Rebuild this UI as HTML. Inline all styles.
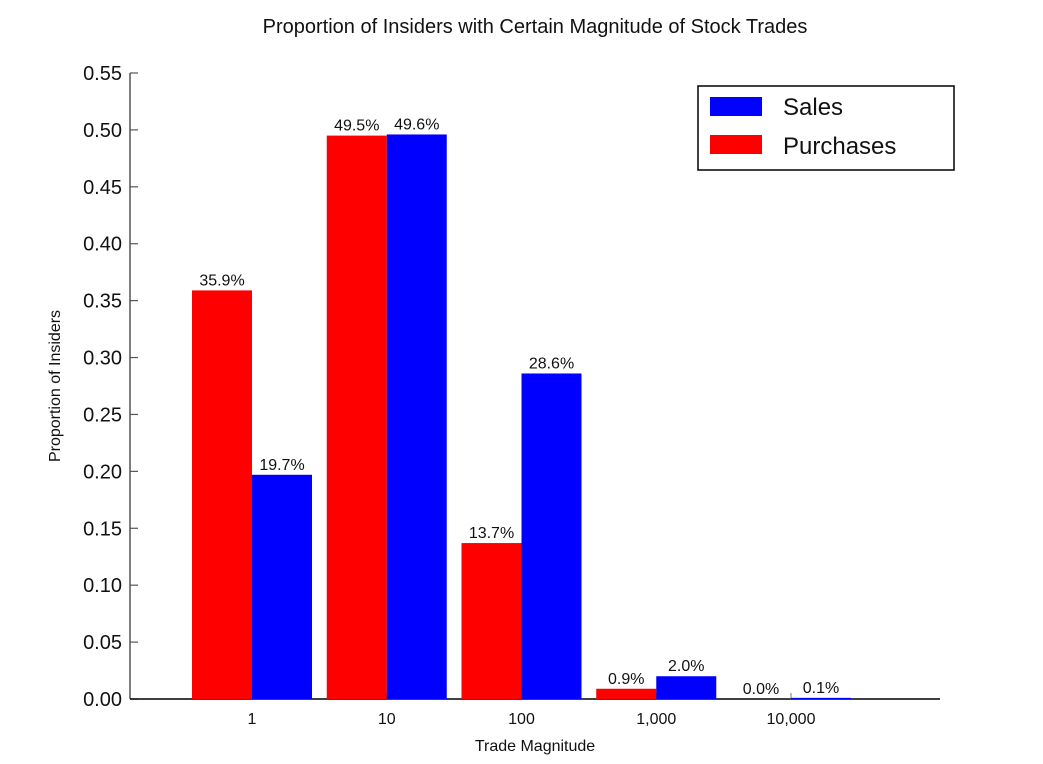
<!DOCTYPE html>
<html><head><meta charset="utf-8"><style>
body{margin:0;background:#fff;}
svg text{font-family:"Liberation Sans","DejaVu Sans",sans-serif;fill:#111;}
</style></head><body>
<svg id="chart" width="1043" height="759" xmlns="http://www.w3.org/2000/svg">
<rect width="1043" height="759" fill="#fff"/>
<text x="535" y="33" font-size="20" text-anchor="middle">Proportion of Insiders with Certain Magnitude of Stock Trades</text>
<g id="yaxis"></g>
<g id="xaxis"></g>
<g id="bars"></g>
<text transform="translate(60,386) rotate(-90)" font-size="16" text-anchor="middle">Proportion of Insiders</text>
<text x="535" y="751" font-size="16" text-anchor="middle">Trade Magnitude</text>
<g>
<rect x="698" y="86" width="256" height="84" fill="#fff" stroke="#000" stroke-width="1.5"/>
<rect x="710" y="97" width="52" height="19" fill="#0000ff"/>
<text x="783" y="115" font-size="24">Sales</text>
<rect x="710" y="135" width="52" height="19" fill="#ff0000"/>
<text x="783" y="154" font-size="24">Purchases</text>
</g>
</svg>
<script>
const categories = ["1","10","100","1,000","10,000"];
const purchases = [0.359,0.495,0.137,0.009,0.0];
const sales = [0.197,0.496,0.286,0.020,0.001];
const yTicks = [0,0.05,0.10,0.15,0.20,0.25,0.30,0.35,0.40,0.45,0.50,0.55];
const NS="http://www.w3.org/2000/svg";
const x0=130,x1=940,yB=699,yT=73,yMax=0.55;
const y=v=>yB-(yB-yT)*v/yMax;
const xc=i=>252+134.75*i;
const bw=60;
function mk(tag,attrs,parent,txt){const e=document.createElementNS(NS,tag);for(const k in attrs)e.setAttribute(k,attrs[k]);if(txt!==undefined)e.textContent=txt;parent.appendChild(e);return e;}
const ya=document.getElementById('yaxis'),xa=document.getElementById('xaxis'),bg=document.getElementById('bars');
mk('line',{x1:x0,y1:yT,x2:x0,y2:yB,stroke:'#555','stroke-width':1.5},ya);
yTicks.forEach(t=>{
  mk('line',{x1:x0,y1:y(t),x2:x0+8,y2:y(t),stroke:'#555','stroke-width':1.2},ya);
  const l=mk('text',{x:x0-8,y:y(t)+7,'font-size':20,'text-anchor':'end'},ya,t.toFixed(2));
  
  
});
mk('line',{x1:x0,y1:yB,x2:x1,y2:yB,stroke:'#000','stroke-width':1.5},xa);
categories.forEach((c,i)=>{
  mk('line',{x1:xc(i),y1:yB,x2:xc(i),y2:yB-6,stroke:'#777','stroke-width':1},xa);
  const l=mk('text',{x:xc(i),y:yB+25,'font-size':16,'text-anchor':'middle'},xa,c);
  
  
});
function bar(v,xl,color,name){
  const r=mk('rect',{x:xl,y:y(v),width:bw,height:yB-y(v),fill:color},bg);
  
  
  const t=mk('text',{x:xl+bw/2,y:y(v)-5,'font-size':16,'text-anchor':'middle'},bg,(v*100).toFixed(1)+'%');
  
  
}
categories.forEach((c,i)=>{
  bar(purchases[i],xc(i)-bw,'#ff0000','bar-purchases');
  bar(sales[i],xc(i),'#0000ff','bar-sales');
});
</script>
</body></html>
